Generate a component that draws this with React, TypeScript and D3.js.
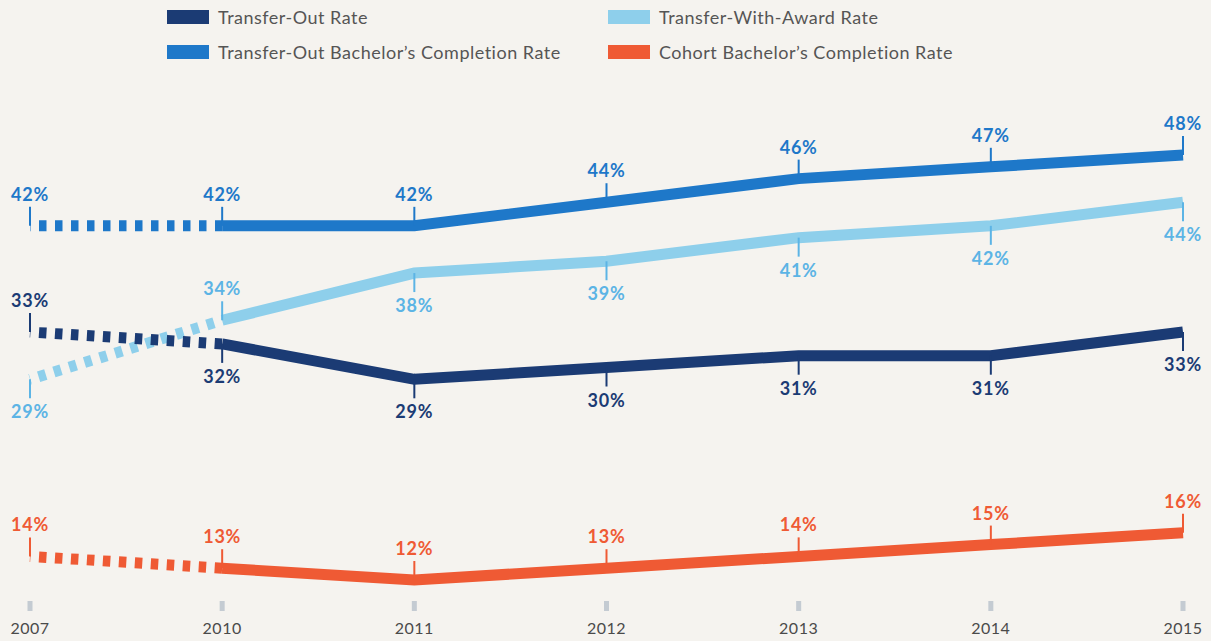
import { useEffect, useRef } from 'react'
import * as d3 from 'd3'

const years = ['2007', '2010', '2011', '2012', '2013', '2014', '2015']
const transferOut = [33, 32, 29, 30, 31, 31, 33]
const withAward = [29, 34, 38, 39, 41, 42, 44]
const bachelor = [42, 42, 42, 44, 46, 47, 48]
const cohort = [14, 13, 12, 13, 14, 15, 16]

const legendItems = [
  { name: 'Transfer-Out Rate', color: '#1b3b74' },
  { name: 'Transfer-With-Award Rate', color: '#8ecfeb' },
  { name: 'Transfer-Out Bachelor\u2019s Completion Rate', color: '#1e78c9' },
  { name: 'Cohort Bachelor\u2019s Completion Rate', color: '#ef5a34' },
]

export default function App() {
  const ref = useRef<SVGSVGElement>(null)

  useEffect(() => {
    const W = 1211
    const H = 641
    const svg = d3.select(ref.current)
    svg.selectAll('*').remove()

    svg.append('rect').attr('width', W).attr('height', H).attr('fill', '#f5f3ef')

    const x = d3.scalePoint<string>().domain(years).range([30, 1183])
    const y = d3.scaleLinear().domain([12, 48]).range([580, 155])

    const series = [
      { values: bachelor, line: '#1e78c9', text: '#1e78c9', sides: ['up', 'up', 'up', 'up', 'up', 'up', 'up'] },
      { values: withAward, line: '#8ecfeb', text: '#5cb4e5', sides: ['down', 'up', 'down', 'down', 'down', 'down', 'down'] },
      { values: transferOut, line: '#1b3b74', text: '#1b3b74', sides: ['up', 'down', 'down', 'down', 'down', 'down', 'down'] },
      { values: cohort, line: '#ef5a34', text: '#ef5a34', sides: ['up', 'up', 'up', 'up', 'up', 'up', 'up'] },
    ]

    // x axis ticks + year labels
    const axis = svg.append('g')
    axis.selectAll('rect')
      .data(years)
      .enter().append('rect')
      .attr('x', d => x(d)! - 2.5)
      .attr('y', 601)
      .attr('width', 5)
      .attr('height', 10)
      .attr('fill', '#c4cbd2')
    axis.selectAll('text')
      .data(years)
      .enter().append('text')
      .attr('x', d => x(d)!)
      .attr('y', 634)
      .attr('text-anchor', 'middle')
      .style('font-family', 'Lato, sans-serif')
      .style('font-size', '16px')
      .style('letter-spacing', '0.5px')
      .style('fill', '#4a4a4a')
      .text(d => d)

    const line = d3.line<[string, number]>()
      .x(d => x(d[0])!)
      .y(d => y(d[1]))

    series.forEach(s => {
      const pts: [string, number][] = years.map((yr, i) => [yr, s.values[i]])
      const g = svg.append('g')

      // dashed gap 2007 -> 2010
      g.append('path')
        .attr('d', line(pts.slice(0, 2)))
        .attr('fill', 'none')
        .attr('stroke', s.line)
        .attr('stroke-width', 11)
        .attr('stroke-dasharray', '7.5,8.5')
        .attr('stroke-dashoffset', 7)

      g.append('path')
        .attr('d', line(pts.slice(1)))
        .attr('fill', 'none')
        .attr('stroke', s.line)
        .attr('stroke-width', 11)
        .attr('stroke-linejoin', 'miter')

      pts.forEach((p, i) => {
        const px = x(p[0])!
        const py = y(p[1])
        const up = s.sides[i] === 'up'
        g.append('line')
          .attr('x1', px).attr('x2', px)
          .attr('y1', up ? py - 19 : py)
          .attr('y2', up ? py : py + 19)
          .attr('stroke', s.text)
          .attr('stroke-width', 2)
        g.append('text')
          .attr('x', px)
          .attr('y', up ? py - 25 : py + 39)
          .attr('text-anchor', 'middle')
          .style('font-family', 'Lato, sans-serif')
          .style('font-size', '18px')
          .style('font-weight', 'bold')
          .style('letter-spacing', '0.8px')
          .style('fill', s.text)
          .text(`${p[1]}%`)
      })
    })

    // legend
    const legend = svg.append('g')
    legendItems.forEach((item, i) => {
      const lx = i % 2 === 0 ? 167 : 608
      const ly = i < 2 ? 10 : 45
      legend.append('rect')
        .attr('x', lx).attr('y', ly)
        .attr('width', 42).attr('height', 14)
        .attr('fill', item.color)
      legend.append('text')
        .attr('x', lx + 51)
        .attr('y', ly + 14)
        .style('font-family', 'Lato, sans-serif')
        .style('font-size', '18px')
        .style('letter-spacing', '0.5px')
        .style('fill', '#555555')
        .text(item.name)
    })
  }, [])

  return (
    <div style={{ position: 'absolute', left: 0, top: 0 }}>
      <svg ref={ref} width={1211} height={641} style={{ display: 'block' }}></svg>
    </div>
  )
}
